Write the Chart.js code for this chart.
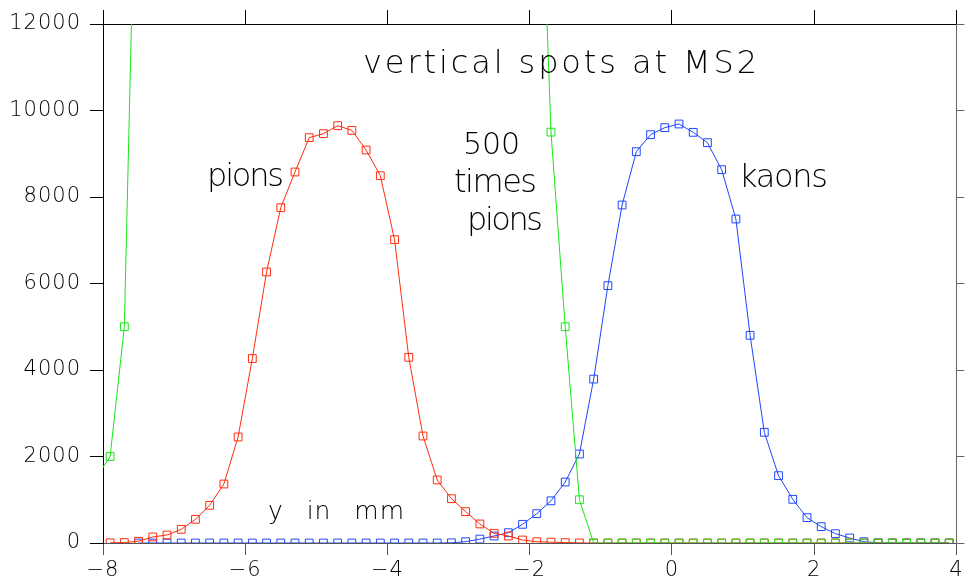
<!DOCTYPE html>
<html>
<head>
<meta charset="utf-8">
<script src="https://cdn.jsdelivr.net/npm/chart.js@4"></script>
<style>
    html, body { margin: 0; padding: 0; background: #fff; }
</style>
</head>
<body>
<canvas id="spots" width="966" height="587"></canvas>
<script>
// bin centres in mm, shared by pions and kaons
const yBins = [
    -7.9, -7.7, -7.5, -7.3, -7.1, -6.9, -6.7, -6.5, -6.3, -6.1,
    -5.9, -5.7, -5.5, -5.3, -5.1, -4.9, -4.7, -4.5, -4.3, -4.1,
    -3.9, -3.7, -3.5, -3.3, -3.1, -2.9, -2.7, -2.5, -2.3, -2.1,
    -1.9, -1.7, -1.5, -1.3, -1.1, -0.9, -0.7, -0.5, -0.3, -0.1,
    0.1, 0.3, 0.5, 0.7, 0.9, 1.1, 1.3, 1.5, 1.7, 1.9,
    2.1, 2.3, 2.5, 2.7, 2.9, 3.1, 3.3, 3.5, 3.7, 3.9,
];
const pions = [
    4, 10, 40, 140, 185, 316, 547, 871, 1364, 2451,
    4265, 6266, 7753, 8578, 9372, 9464, 9649, 9541, 9087, 8493,
    7014, 4293, 2474, 1457, 1025, 725, 440, 224, 162, 69,
    30, 19, 10, 2, 0, 0, 0, 0, 0, 0,
    0, 0, 0, 0, 0, 0, 0, 0, 0, 0,
    0, 0, 0, 0, 0, 0, 0, 0, 0, 0,
];
const kaons = [
    null, null, 0, 0, 0, 0, 0, 0, 0, 0,
    0, 0, 0, 0, 0, 0, 0, 0, 0, 0,
    0, 0, 0, 0, 5, 30, 90, 162, 238, 432,
    678, 975, 1410, 2058, 3790, 5950, 7815, 9048, 9441, 9603,
    9688, 9495, 9256, 8632, 7491, 4802, 2559, 1557, 1010, 586,
    378, 216, 116, 30, 5, 0, 0, 0, 0, 0,
];
// "500 times pions": only the bins near the visible window
const scaledBins = [
    -8.1, -7.9, -7.7, -7.5, -1.9, -1.7, -1.5, -1.3, -1.1, -0.9,
    -0.7, -0.5, -0.3, -0.1, 0.1, 0.3, 0.5, 0.7, 0.9, 1.1,
    1.3, 1.5, 1.7, 1.9, 2.1, 2.3, 2.5, 2.7, 2.9, 3.1,
    3.3, 3.5, 3.7, 3.9,
];
const scaledPions = [
    1500, 2000, 5000, 19000, 18500, 9500, 5000, 1000, 0, 0,
    0, 0, 0, 0, 0, 0, 0, 0, 0, 0,
    0, 0, 0, 0, 0, 0, 0, 0, 0, 0,
    0, 0, 0, 0,
];
const xTicks = [-8, -6, -4, -2, 0, 2, 4];
const yTicks = [0, 2000, 4000, 6000, 8000, 10000, 12000];

const FONT = "DejaVu Sans";

// free text on the plot, pixel boxes
const notes = [
    { text: "vertical spots at MS2", left: 363, base: 73, width: 394, size: 32 },
    { text: "pions", left: 207, base: 186, width: 77, size: 32 },
    { text: "500", left: 463, base: 154, width: 57, size: 30 },
    { text: "times", left: 454, base: 192, width: 83, size: 32 },
    { text: "pions", left: 467, base: 230, width: 76, size: 32 },
    { text: "kaons", left: 739, base: 187, width: 89, size: 32 },
    { text: "y in mm", left: 268, base: 519, width: 137, size: 25, words: true },
];

const notesPlugin = {
    id: "notes",
    beforeDraw(chart) {
        // slightly spaced-out digits for the tick labels
        chart.ctx.letterSpacing = "1px";
    },
    afterDraw(chart) {
        const ctx = chart.ctx;
        ctx.save();
        ctx.fillStyle = "#000";
        ctx.textAlign = "left";
        ctx.textBaseline = "alphabetic";
        notes.forEach((n) => {
            ctx.font = `200 ${n.size}px "${FONT}"`;
            ctx.letterSpacing = "0px";
            ctx.wordSpacing = "0px";
            const natural = ctx.measureText(n.text).width;
            if (n.words) {
                const gaps = n.text.split(" ").length - 1;
                ctx.letterSpacing = "1px";
                const w = ctx.measureText(n.text).width;
                ctx.wordSpacing = (n.width - w) / gaps + "px";
            } else {
                ctx.letterSpacing = (n.width - natural) / (n.text.length - 1) + "px";
            }
            ctx.fillText(n.text, n.left, n.base);
        });
        ctx.restore();
        ctx.letterSpacing = "0px";
        ctx.wordSpacing = "0px";
    },
};

function points(xs, ys) {
    return ys.map((v, i) => ({ x: xs[i], y: v }));
}

function series(label, xs, ys, color) {
    return {
        label: label,
        data: points(xs, ys),
        borderColor: color,
        borderWidth: 1,
        tension: 0,
        pointStyle: "rect",
        pointRadius: 5.5,
        pointBorderWidth: 1,
        pointBorderColor: color,
        pointBackgroundColor: "rgba(0,0,0,0)",
        fill: false,
    };
}

const tickFont = { family: FONT, size: 21, weight: 200 };
const setTicks = (list) => (scale) => {
    scale.ticks = list.map((v) => ({ value: v }));
};

const config = {
    type: "line",
    data: {
        datasets: [
            series("500 times pions", scaledBins, scaledPions, "#19e619"),
            series("pions", yBins, pions, "#ff2d0f"),
            series("kaons", yBins, kaons, "#1e46ff"),
        ],
    },
    options: {
        responsive: false,
        animation: false,
        devicePixelRatio: 1,
        layout: { padding: 0 },
        plugins: {
            legend: { display: false },
            tooltip: { enabled: false },
        },
        scales: {
            x: {
                type: "linear",
                position: "bottom",
                min: -8,
                max: 4,
                afterBuildTicks: setTicks(xTicks),
                afterFit: (s) => { s.height = 44; },
                ticks: {
                    color: "#000",
                    font: tickFont,
                    padding: 3,
                    maxRotation: 0,
                    autoSkip: false,
                    callback: (v) => String(v).replace("-", "\u2212"),
                },
                grid: { drawOnChartArea: false, tickLength: 12, tickColor: "#555" },
                border: { color: "#555" },
            },
            xTop: {
                type: "linear",
                position: "top",
                min: -8,
                max: 4,
                afterBuildTicks: setTicks(xTicks),
                afterFit: (s) => { s.height = 24; },
                ticks: { display: false },
                grid: { drawOnChartArea: false, tickLength: 14, tickColor: "#000" },
                border: { color: "#000" },
            },
            y: {
                type: "linear",
                position: "left",
                min: 0,
                max: 12000,
                afterBuildTicks: setTicks(yTicks),
                afterFit: (s) => { s.width = 103; },
                ticks: {
                    color: "#000",
                    font: tickFont,
                    padding: 9,
                    callback: (v) => String(v),
                },
                grid: { drawOnChartArea: false, tickLength: 13, tickColor: "#000" },
                border: { color: "#000" },
            },
            yRight: {
                type: "linear",
                position: "right",
                min: 0,
                max: 12000,
                afterBuildTicks: setTicks(yTicks),
                afterFit: (s) => { s.width = 8; },
                ticks: { display: false },
                grid: { drawOnChartArea: false, tickLength: 8, tickColor: "#666" },
                border: { color: "#666" },
            },
        },
    },
    plugins: [notesPlugin],
};

const spotsChart = new Chart(document.getElementById("spots"), config);
</script>
</body>
</html>
